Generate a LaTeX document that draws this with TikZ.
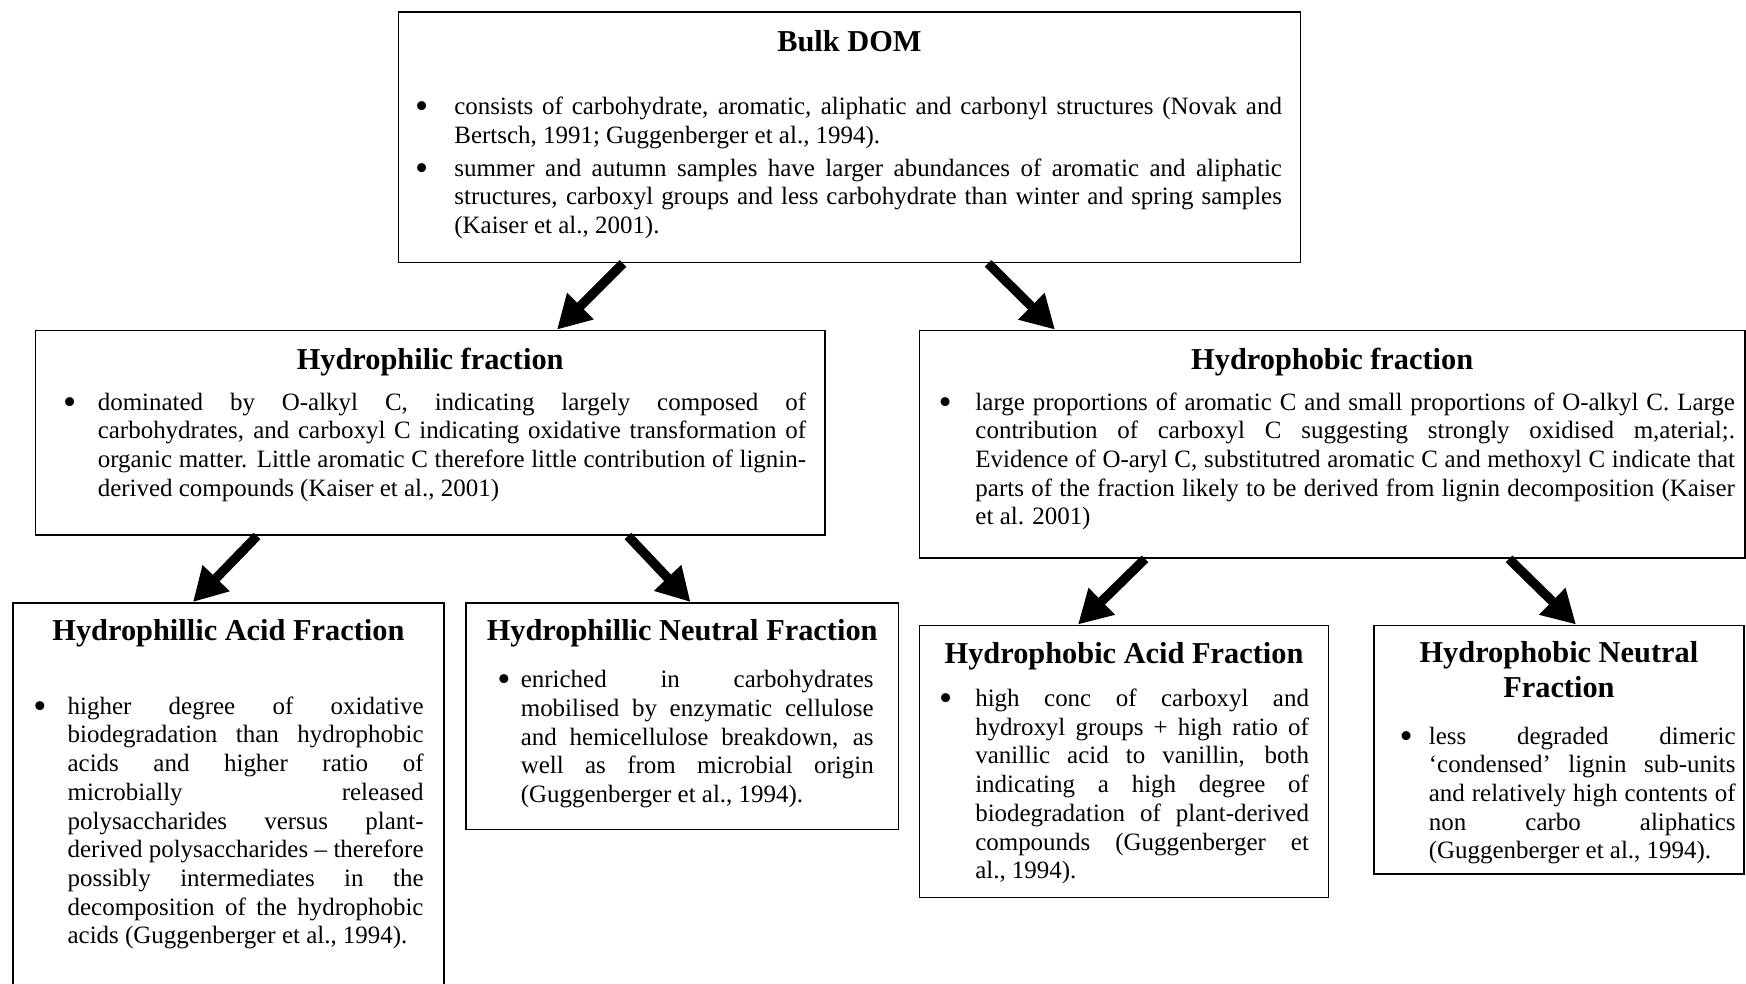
\documentclass[tikz,border=0pt]{standalone}
\usepackage{fontspec}
\setmainfont{Liberation Serif}
\usetikzlibrary{arrows.meta,calc}

\newlength\pxu
\setlength\pxu{0.4808pt}
\newcommand{\bulgap}{12pt}
\newcommand{\fractitle}[2]{{\centering\fontsize{14.6}{16.6}\selectfont\bfseries\rule{0pt}{#1}#2\par}}
\newcommand{\fracmargins}[3]{\leftskip=#1\relax\rightskip=#2\relax\renewcommand{\bulgap}{#3}}
\newcommand{\fracitem}{\par\noindent\llap{\raisebox{-2pt}{\fontsize{18}{18}\selectfont\textbullet}\hspace{\bulgap}}}
\hyphenpenalty=10000
\tolerance=10000
\hbadness=10000

\begin{document}
\begin{tikzpicture}[x=0.4808pt,y=-0.4808pt,
    fracbox/.style={draw, line width=0.9pt, anchor=north west, inner sep=0pt,
                    font=\fontsize{12}{13.8}\selectfont},
    flow/.style={line width=4.5pt, -{Triangle[length=16pt,width=17pt]}}]
\useasboundingbox (0,0) rectangle (1746,983);
\clip (0,0) rectangle (1746,983);

% top level
\node[fracbox] (bulk) at (397.5,11) {\parbox[t][250.5\pxu][t]{902\pxu}{%
  \fractitle{19.2pt}{Bulk DOM}
  \vspace{16.3pt}
  \fracmargins{26.9pt}{8.9pt}{12.6pt}
  \fracitem consists of carbohydrate, aromatic, aliphatic and carbonyl structures (Novak and\linebreak
  Bertsch, 1991; Guggenberger et al., 1994).
  \par\vspace{2pt}
  \fracitem summer and autumn samples have larger abundances of aromatic and aliphatic\linebreak
  structures, carboxyl groups and less carbohydrate than winter and spring samples\linebreak
  (Kaiser et al., 2001).\par}};

% fractions
\node[fracbox] (philic) at (34.5,329.6) {\parbox[t][204.5\pxu][t]{789.5\pxu}{%
  \fractitle{18.6pt}{Hydrophilic fraction}
  \vspace{5.8pt}
  \fracmargins{30pt}{9.1pt}{10.4pt}
  \fracitem dominated by O-alkyl C, indicating largely composed of\linebreak
  carbohydrates, and carboxyl C indicating oxidative transformation of\linebreak
  organic matter. Little aromatic C therefore little contribution of lignin-\linebreak
  derived compounds (Kaiser et al., 2001)\par}};
\node[fracbox] (phobic) at (918.6,329.6) {\parbox[t][227.4\pxu][t]{825.4\pxu}{%
  \fractitle{18.6pt}{Hydrophobic fraction}
  \vspace{5.8pt}
  \fracmargins{26.9pt}{4.8pt}{11.4pt}
  \fracitem large proportions of aromatic C and small proportions of O-alkyl C. Large\linebreak
  contribution of carboxyl C suggesting strongly oxidised m,aterial;.\linebreak
  Evidence of O-aryl C, substitutred aromatic C and methoxyl C indicate that\linebreak
  parts of the fraction likely to be derived from lignin decomposition (Kaiser\linebreak
  et al. 2001)\par}};

% sub-fractions
\node[fracbox] (philacid) at (12,602) {\parbox[t][398\pxu][t]{431\pxu}{%
  \fractitle{18.1pt}{Hydrophillic Acid Fraction}
  \vspace{21.6pt}
  \fracmargins{26.3pt}{9.8pt}{10.2pt}
  \fracitem higher degree of oxidative\linebreak
  biodegradation than hydrophobic\linebreak
  acids and higher ratio of\linebreak
  microbially released\linebreak
  polysaccharides versus plant-\linebreak
  derived polysaccharides -- therefore\linebreak
  possibly intermediates in the\linebreak
  decomposition of the hydrophobic\linebreak
  acids (Guggenberger et al., 1994).\par}};
\node[fracbox] (philneut) at (465,602) {\parbox[t][226.5\pxu][t]{432.5\pxu}{%
  \fractitle{18.1pt}{Hydrophillic Neutral Fraction}
  \vspace{8.8pt}
  \fracmargins{26.4pt}{11.9pt}{5pt}
  \fracitem enriched in carbohydrates\linebreak
  mobilised by enzymatic cellulose\linebreak
  and hemicellulose breakdown, as\linebreak
  well as from microbial origin\linebreak
  (Guggenberger et al., 1994).\par}};
\node[fracbox] (phobacid) at (918.6,624.5) {\parbox[t][272\pxu][t]{409\pxu}{%
  \fractitle{18.5pt}{Hydrophobic Acid Fraction}
  \vspace{6.7pt}
  \fracmargins{26.8pt}{9.4pt}{11.1pt}
  \fracitem high conc of carboxyl and\linebreak
  hydroxyl groups + high ratio of\linebreak
  vanillic acid to vanillin, both\linebreak
  indicating a high degree of\linebreak
  biodegradation of plant-derived\linebreak
  compounds (Guggenberger et\linebreak
  al., 1994).\par}};
\node[fracbox] (phobneut) at (1373,624.5) {\parbox[t][248.5\pxu][t]{370\pxu}{%
  \fractitle{18pt}{Hydrophobic Neutral\\Fraction}
  \vspace{8.6pt}
  \fracmargins{26.4pt}{4pt}{7.7pt}
  \fracitem less degraded dimeric\linebreak
  ‘condensed’ lignin sub-units\linebreak
  and relatively high contents of\linebreak
  non carbo aliphatics\linebreak
  (Guggenberger et al., 1994).\par}};

% arrows
\draw[flow] ($(bulk.south west)+(225.5,0)$) -- ($(philic.north west)+(522.5,0)$);
\draw[flow] ($(bulk.south west)+(590.5,0)$) -- ($(phobic.north west)+(136.4,0)$);
\draw[flow] ($(philic.south west)+(222.5,0)$) -- ($(philacid.north west)+(181,0)$);
\draw[flow] ($(philic.south west)+(593.5,0)$) -- ($(philneut.north west)+(225.5,0)$);
\draw[flow] ($(phobic.south west)+(226.4,0)$) -- ($(phobacid.north west)+(159.4,0)$);
\draw[flow] ($(phobic.south west)+(590.4,0)$) -- ($(phobneut.north west)+(203,0)$);

\end{tikzpicture}
\end{document}
